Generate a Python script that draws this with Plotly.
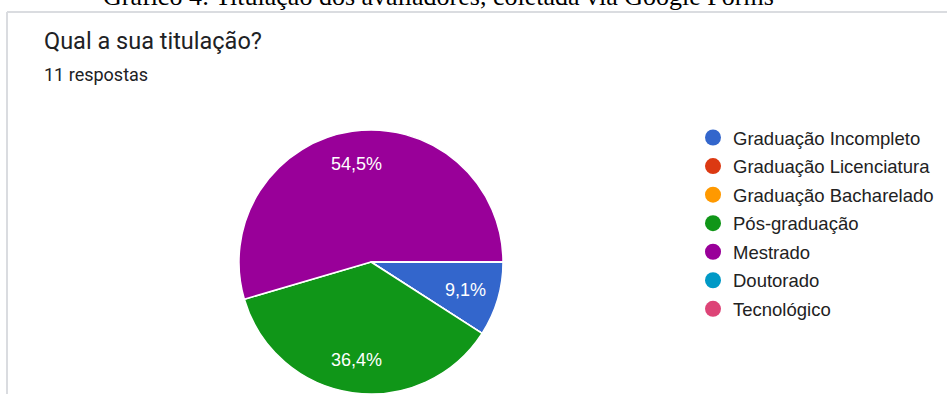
import math
import plotly.graph_objects as go

# Survey answers: "Qual a sua titulação?" (11 respostas)
categorias = [
    "Graduação Incompleto",
    "Graduação Licenciatura",
    "Graduação Bacharelado",
    "Pós-graduação",
    "Mestrado",
    "Doutorado",
    "Tecnológico",
]
respostas = [1, 0, 0, 4, 6, 0, 0]
cores = ["#3366cc", "#dc3912", "#ff9900", "#109618", "#990099", "#0099c6", "#dd4477"]

W, H = 947, 394

# pie geometry in pixels
CX, CY, R = 371, 262, 132
START = 90          # first slice starts at 3 o'clock, going clockwise
LABEL_R = 0.75      # label distance as a fraction of the radius


def px(x):
    return x / W


def py(y):
    return 1 - y / H


fig = go.Figure()

fig.add_trace(go.Pie(
    labels=categorias,
    values=respostas,
    marker=dict(colors=cores, line=dict(color="white", width=1.5)),
    sort=False,
    direction="clockwise",
    rotation=START,
    textinfo="none",
    showlegend=False,
    hoverinfo="label+value+percent",
    domain=dict(x=[px(CX - R), px(CX + R)], y=[0, py(CY - R)]),
))

# Percentage labels placed on each slice bisector
total = sum(respostas)
rotulos = []
acum = 0
for v in respostas:
    if v > 0:
        meio = START + 360 * (acum + v / 2) / total
        a = math.radians(meio)
        lx = CX + LABEL_R * R * math.sin(a)
        ly = CY - LABEL_R * R * math.cos(a)
        pct = f"{100 * v / total:.1f}".replace(".", ",") + "%"
        rotulos.append(dict(
            text=pct, xref="paper", yref="paper", x=px(lx), y=py(ly),
            xanchor="center", yanchor="middle", showarrow=False,
            font=dict(family="Liberation Sans, Arial", size=18, color="white"),
        ))
    acum += v

# Legend entries with round markers
for nome, cor in zip(categorias, cores):
    fig.add_trace(go.Scatter(
        x=[None], y=[None], mode="markers", name=nome,
        legendgroup=nome,
        marker=dict(symbol="circle", size=16, color=cor),
    ))

fig.update_layout(
    width=W, height=H,
    margin=dict(l=0, r=0, t=0, b=0),
    paper_bgcolor="white",
    plot_bgcolor="white",
    separators=",.",
    xaxis=dict(visible=False),
    yaxis=dict(visible=False),
    legend=dict(
        x=px(693), y=py(119), xanchor="left", yanchor="top",
        traceorder="grouped", tracegroupgap=1.5,
        font=dict(family="Liberation Sans, Arial", size=18.5, color="#222222"),
        bgcolor="rgba(0,0,0,0)",
    ),
    shapes=[
        dict(type="line", xref="paper", yref="paper",
             x0=px(7), x1=1, y0=py(12), y1=py(12),
             line=dict(color="#dadce0", width=2)),
        dict(type="line", xref="paper", yref="paper",
             x0=px(7), x1=px(7), y0=py(12), y1=0,
             line=dict(color="#dadce0", width=2)),
    ],
    annotations=[
        dict(text="Gráfico 4: Titulação dos avaliadores, coletada via Google Forms",
             xref="paper", yref="paper", x=px(438), y=py(13),
             xanchor="center", yanchor="bottom", showarrow=False,
             font=dict(family="Liberation Serif, Times New Roman", size=26, color="black")),
        dict(text="Qual a sua titulação?",
             xref="paper", yref="paper", x=px(42), y=py(41),
             xanchor="left", yanchor="middle", showarrow=False,
             font=dict(family="Roboto", size=23.5, color="#202124")),
        dict(text="11 respostas",
             xref="paper", yref="paper", x=px(42), y=py(74),
             xanchor="left", yanchor="middle", showarrow=False,
             font=dict(family="Roboto", size=18, color="#202124")),
    ] + rotulos,
)

fig.write_html("out.html")
